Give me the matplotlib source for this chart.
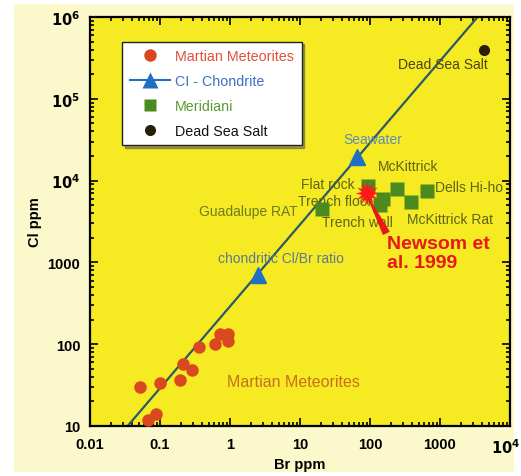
import numpy as np
import matplotlib
matplotlib.use("Agg")
import matplotlib.pyplot as plt
import matplotlib.transforms as mtransforms
from matplotlib.lines import Line2D
from matplotlib.patches import Rectangle

plt.rcParams['font.family'] = ['Liberation Sans', 'DejaVu Sans']

# Martian meteorites (Br ppm, Cl ppm)
martian_br = [0.052, 0.1, 0.067, 0.087, 0.19, 0.21, 0.29, 0.36, 0.61, 0.72, 0.93, 0.93]
martian_cl = [30, 34, 12, 14, 36, 57, 48, 93, 100, 133, 133, 108]

# CI chondrite / seawater ratio line
chondrite_names = ["chondritic Cl/Br ratio", "Seawater"]
chondrite_br = [2.5, 65]
chondrite_cl = [700, 19500]
clbr_ratio = 290

# Meridiani
meridiani_br = [20.5, 94, 154, 138, 245, 385, 650]
meridiani_cl = [4500, 8500, 6000, 5100, 8000, 5500, 7400]

# Newsom et al. 1999
newsom_br = [91]
newsom_cl = [7100]

# Dead Sea Salt
deadsea_br = [4200]
deadsea_cl = [400000]

x_ticks = [0.01, 0.1, 1, 10, 100, 1000, 10000]
x_ticklabels = ["0.01", "0.1", "1", "10", "100", "1000", r"$\mathbf{10^4}$"]
y_ticks = [10, 100, 1000, 1e4, 1e5, 1e6]
y_ticklabels = ["10", "100", "1000", r"$\mathbf{10^4}$", r"$\mathbf{10^5}$", r"$\mathbf{10^6}$"]

# labels: (text, x, y, ha, colour, size)
point_labels = [
    ("Dead Sea Salt", 1100, 266000, "center", "#4a4610", 10),
    ("Seawater", 110, 32000, "center", "#5f8db5", 10),
    ("McKittrick", 350, 15000, "center", "#5e6416", 10),
    ("Flat rock", 61, 9100, "right", "#5e6416", 10),
    ("Trench floor", 9.4, 5600, "left", "#5e6416", 10),
    ("Guadalupe RAT", 9.4, 4300, "right", "#6e7c1a", 10),
    ("Trench wall", 20.6, 3100, "left", "#5e6416", 10),
    ("Dells Hi-ho", 850, 8300, "left", "#5e6416", 10),
    ("McKittrick Rat", 340, 3400, "left", "#5e6416", 10),
    ("chondritic Cl/Br ratio", 0.67, 1120, "left", "#5a7a96", 10),
    ("Martian Meteorites", 0.9, 35, "left", "#c8701c", 11.5),
]

c_martian = "#d9481f"
c_line = "#2b5a66"
c_tri = "#1f6fc4"
c_meri = "#4b8a1f"

fig = plt.figure(figsize=(5.21, 4.77), dpi=100)
fig.patch.set_facecolor("white")
fig.patches.append(Rectangle((14 / 521, 4 / 477), 500 / 521, 468 / 477,
                             transform=fig.transFigure, facecolor="#fbf8cc",
                             edgecolor="none", zorder=-10))
ax = fig.add_axes([90 / 521, 1 - 427 / 477, 420 / 521, 409 / 477])
ax.set_facecolor("#f6ea22")
ax.set_xscale("log")
ax.set_yscale("log")
ax.set_xlim(0.01, 10000)
ax.set_ylim(10, 1e6)

xs = np.array([0.001, 1e5])
ax.plot(xs, clbr_ratio * xs, color=c_line, lw=1.6, zorder=2)
ax.plot(chondrite_br, chondrite_cl, "^", color=c_tri, ms=11, zorder=3)
ax.plot(martian_br, martian_cl, "o", color=c_martian, ms=9, mec="none", zorder=3)
ax.plot(meridiani_br, meridiani_cl, "s", color=c_meri, ms=9.5, mec="none", zorder=4)
ax.plot(deadsea_br, deadsea_cl, "o", color="#2a1e0c", ms=8, mec="none", zorder=3)
ax.plot(newsom_br, newsom_cl, marker=(12, 1, 0), color="#ff1a1a", ms=17, mec="none",
        ls="none", zorder=5)

for txt, x, y, ha, col, fs in point_labels:
    ax.text(x, y, txt, ha=ha, va="center", color=col, fontsize=fs, zorder=2.5)

ax.text(175, 1300, "Newsom et\nal. 1999", ha="left", va="center", color="#e8181a",
        fontsize=14, fontweight="bold", linespacing=1.12, zorder=5)
ax.annotate("", xy=(newsom_br[0] * 1.05, newsom_cl[0] * 0.85), xytext=(170, 2300),
            arrowprops=dict(arrowstyle="wedge,tail_width=0.45", color="#e8181a",
                            shrinkA=0, shrinkB=0), zorder=5)

ax.set_xticks(x_ticks)
ax.set_xticklabels(x_ticklabels)
ax.set_yticks(y_ticks)
ax.set_yticklabels(y_ticklabels)
ax.tick_params(which="both", direction="in", top=True, right=True, width=1.2)
ax.tick_params(which="major", length=6, labelsize=10.5)
ax.tick_params(axis="x", which="major", pad=8)
ax.tick_params(axis="y", which="major", pad=7)
ax.tick_params(which="minor", length=3)
for lab in ax.get_xticklabels() + ax.get_yticklabels():
    lab.set_fontweight("bold")
# nudge the last x label so it stays inside the picture
last = ax.get_xticklabels()[-1]
last.set_transform(last.get_transform() +
                   mtransforms.ScaledTranslation(-4 / 100, 0, fig.dpi_scale_trans))
for s in ax.spines.values():
    s.set_linewidth(1.6)

ax.set_xlabel("Br ppm", fontsize=10.5, fontweight="bold", labelpad=1)
ax.set_ylabel("Cl ppm", fontsize=10.5, fontweight="bold", labelpad=4)

handles = [
    Line2D([], [], marker="o", color=c_martian, ls="none", ms=9, mec="none"),
    Line2D([], [], marker="^", color=c_tri, ls="-", ms=11, mec="none"),
    Line2D([], [], marker="s", color=c_meri, ls="none", ms=9, mec="none"),
    Line2D([], [], marker="o", color="#2a1e0c", ls="none", ms=8, mec="none"),
]
names = ["Martian Meteorites", "CI - Chondrite", "Meridiani", "Dead Sea Salt"]
leg = ax.legend(handles, names, loc="upper left", bbox_to_anchor=(0.076, 0.94),
                fontsize=10.3, frameon=True, fancybox=False, shadow=True,
                edgecolor="#222222", framealpha=1, borderpad=0.55,
                labelspacing=0.75, handlelength=2.8, handletextpad=0.35,
                borderaxespad=0)
for t, c in zip(leg.get_texts(), ["#e0503c", "#3a70c0", "#5a9a30", "#111111"]):
    t.set_color(c)

fig.savefig("out.png", dpi=100, facecolor=fig.get_facecolor())
